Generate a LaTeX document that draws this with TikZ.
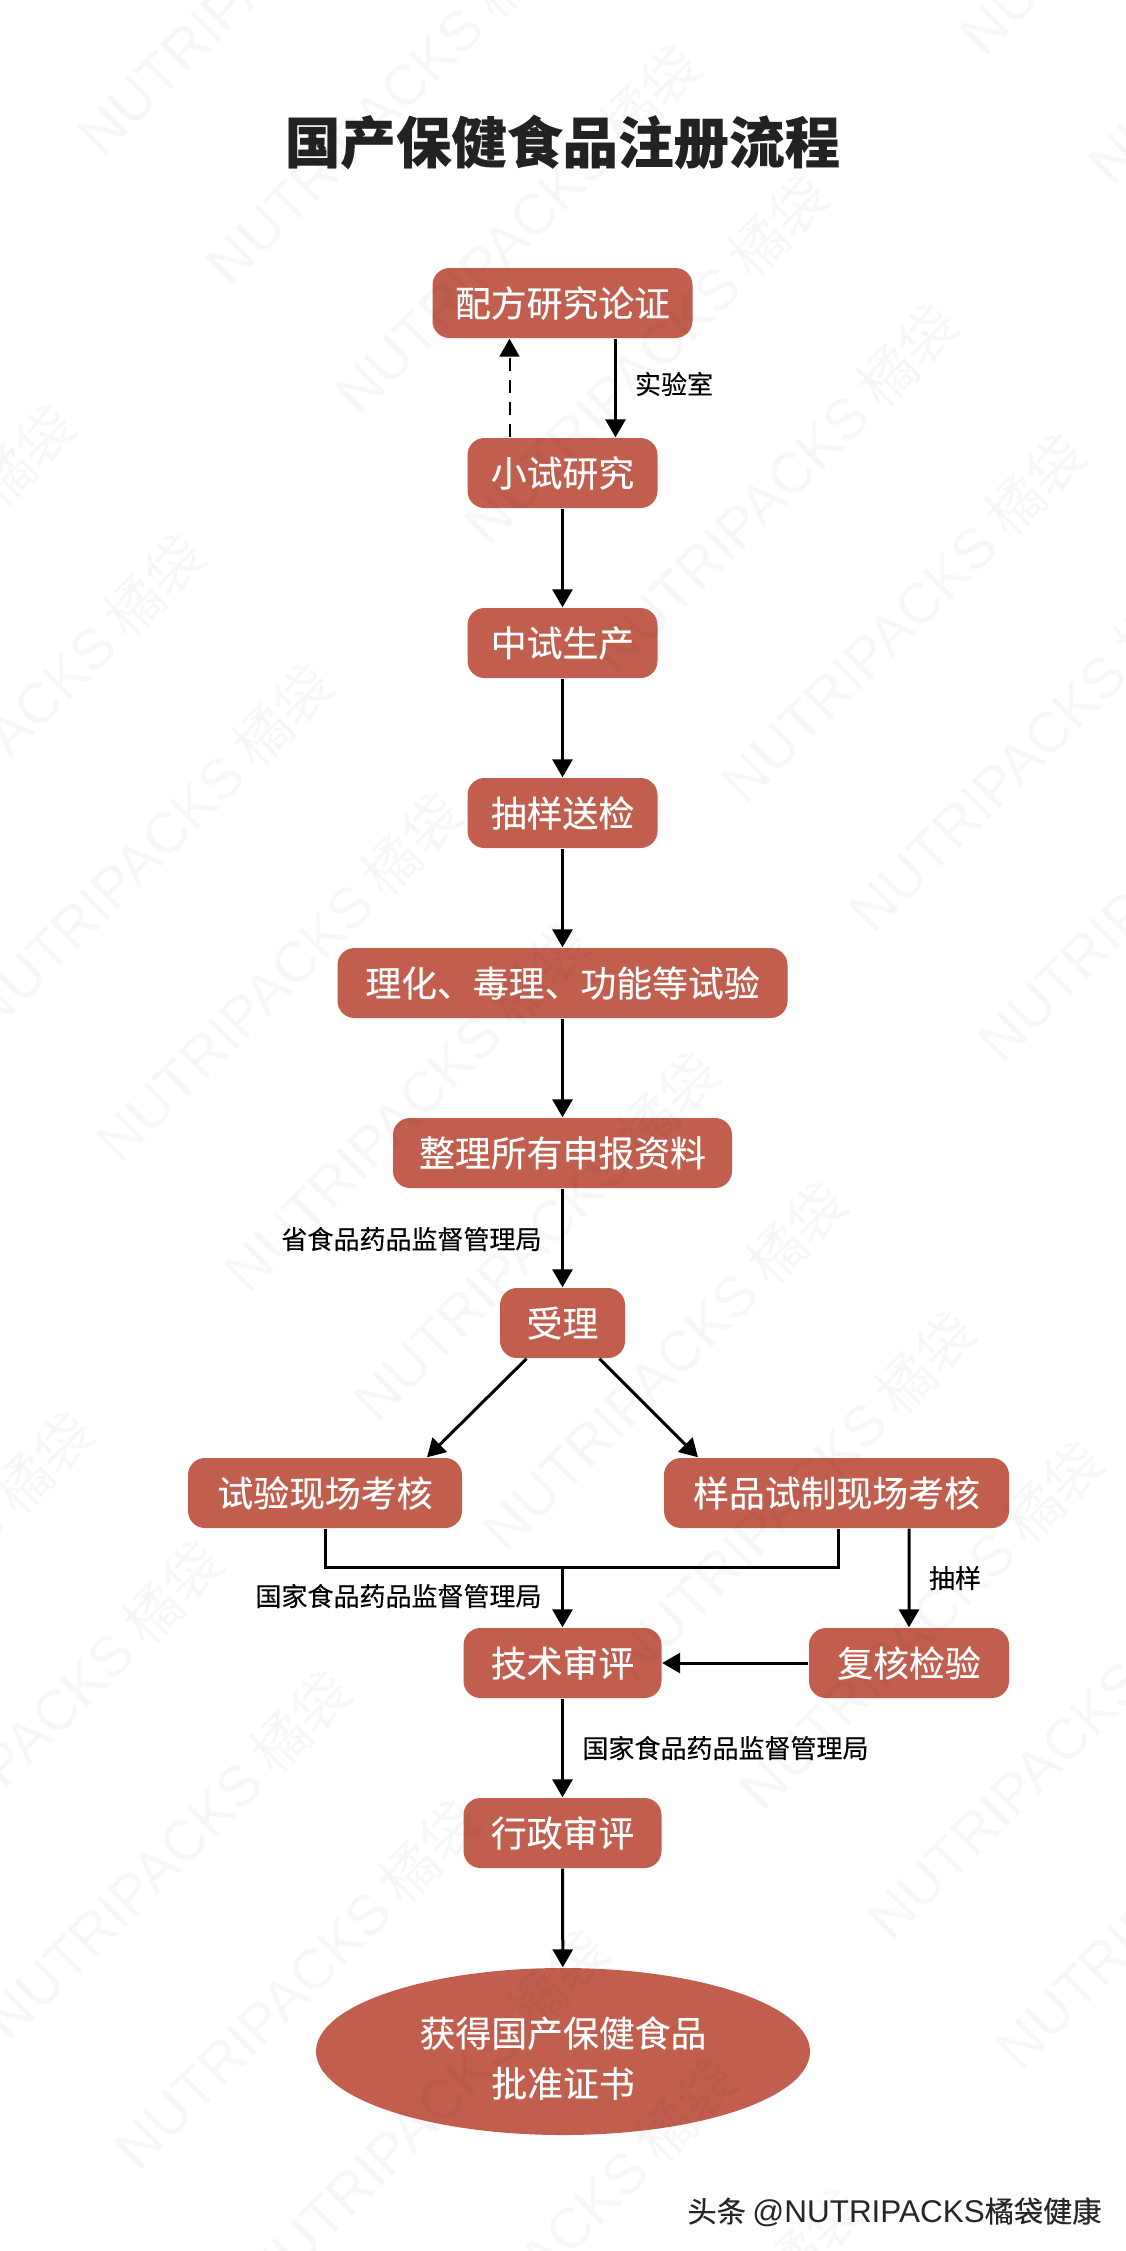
\documentclass[tikz,border=0pt]{standalone}
\usepackage{fontspec}
\setmainfont[FakeBold=0.25]{Noto Sans CJK SC}
\newfontfamily\plainfont{Noto Sans CJK SC}
\newfontfamily\markfont{Liberation Sans}
\usetikzlibrary{arrows.meta, shapes.geometric, calc}
\definecolor{boxred}{HTML}{C15E4E}
\definecolor{titleink}{HTML}{222222}
\tikzset{
	stepbox/.style={fill=boxred, text=white, rounded corners=0.17cm, inner sep=0pt, minimum height=0.7cm, font=\fontsize{10.2}{12}\selectfont},
	endbox/.style={ellipse, fill=boxred, text=white, inner sep=0pt, minimum width=4.94cm, minimum height=1.67cm, align=center, font=\fontsize{10.2}{14.3}\selectfont},
	flow/.style={line width=0.03cm, -{Triangle[length=0.18cm, width=0.2cm]}},
	flowline/.style={line width=0.03cm},
	back/.style={line width=0.02cm, dash pattern=on 0.13cm off 0.09cm, -{Triangle[length=0.18cm, width=0.2cm]}},
	note/.style={inner sep=0pt, font=\fontsize{7.4}{9}\selectfont},
	markword/.style={anchor=base west, rotate=45, inner sep=0pt, black, opacity=0.03, font=\fontsize{16.2}{18}\selectfont}
}

\begin{document}
\begin{tikzpicture}
	\useasboundingbox[fill=white] (0,0) rectangle (11.25,-22.51);

	\node (title) at (5.625,-1.42) {\fontsize{15.8}{18}\selectfont\bfseries\color{titleink}国产保健食品注册流程};

	% main column
	\node[stepbox, minimum width=2.6cm] (peifang) at (5.625,-3.03) {配方研究论证};
	\node[stepbox, minimum width=1.9cm] (xiaoshi) at (5.625,-4.73) {小试研究};
	\node[stepbox, minimum width=1.9cm] (zhongshi) at (5.625,-6.43) {中试生产};
	\node[stepbox, minimum width=1.9cm] (chouyang) at (5.625,-8.13) {抽样送检};
	\node[stepbox, minimum width=4.5cm] (shiyan) at (5.625,-9.83) {理化、毒理、功能等试验};
	\node[stepbox, minimum width=3.39cm] (zhengli) at (5.625,-11.53) {整理所有申报资料};
	\node[stepbox, minimum width=1.25cm] (shouli) at (5.625,-13.23) {受理};
	\node[stepbox, minimum width=2.74cm] (xianchang) at (3.25,-14.93) {试验现场考核};
	\node[stepbox, minimum width=3.45cm] (yangpin) at (8.365,-14.93) {样品试制现场考核};
	\node[stepbox, minimum width=1.98cm] (jishu) at (5.625,-16.63) {技术审评};
	\node[stepbox, minimum width=2cm] (fuhe) at (9.09,-16.63) {复核检验};
	\node[stepbox, minimum width=1.98cm] (xingzheng) at (5.625,-18.33) {行政审评};
	\node[endbox] (zhengshu) at (5.63,-20.515) {\rule{0pt}{12.4pt}获得国产保健食品\\批准证书};

	\coordinate (merge) at (5.625,-15.67);

	% connectors
	\draw[flow] ([xshift=0.53cm]peifang.south) -- ([xshift=0.53cm]xiaoshi.north);
	\draw[back] ([xshift=-0.53cm]xiaoshi.north) -- ([xshift=-0.53cm]peifang.south);
	\draw[flow] (xiaoshi) -- (zhongshi);
	\draw[flow] (zhongshi) -- (chouyang);
	\draw[flow] (chouyang) -- (shiyan);
	\draw[flow] (shiyan) -- (zhengli);
	\draw[flow] (zhengli) -- (shouli);
	\draw[flow] ([xshift=-0.36cm]shouli.south) -- ([xshift=1.02cm]xianchang.north);
	\draw[flow] ([xshift=0.37cm]shouli.south) -- ([xshift=-1.385cm]yangpin.north);
	\draw[flowline] (xianchang.south) |- (merge) -| ([xshift=0.02cm]yangpin.south);
	\draw[flow] (merge) -- (jishu);
	\draw[flow] ([xshift=0.725cm]yangpin.south) -- (fuhe.north);
	\draw[flow] (fuhe) -- (jishu);
	\draw[flow] (jishu) -- (xingzheng);
	\draw[flow] (xingzheng) -- (zhengshu);

	% labels
	\node[note] (lab) at (6.74,-3.84) {实验室};
	\node[note] (prov) at (4.115,-12.39) {省食品药品监督管理局};
	\node[note] (natleft) at (3.985,-15.96) {国家食品药品监督管理局};
	\node[note] (sample) at (9.55,-15.78) {抽样};
	\node[note] (natright) at (7.255,-17.48) {国家食品药品监督管理局};
	\node[inner sep=0pt, text=black!85, font=\fontsize{8.3}{9}\selectfont] (credit) at (8.945,-22.12) {头条 {\markfont\fontsize{8.95}{9}\selectfont @NUTRIPACKS}橘袋健康};

	% watermark
	\foreach \n in {-12,...,14} {
		\foreach \m in {-2,...,2} {
			\pgfmathsetmacro\wx{1.2+1.285*\n+7.53*\m}
			\pgfmathsetmacro\wy{-11.66-1.295*\n+2.3*\m}
			\pgfmathparse{and(\wx>-4, and(\wx<11.25, and(\wy<0, \wy>-26.2)))}
			\ifnum\pgfmathresult=1
				\node[markword] (mark\n_\m) at (\wx,\wy) {{\markfont NUTRIPACKS} {\plainfont 橘袋}};
			\fi
		}
	}
\end{tikzpicture}
\end{document}
